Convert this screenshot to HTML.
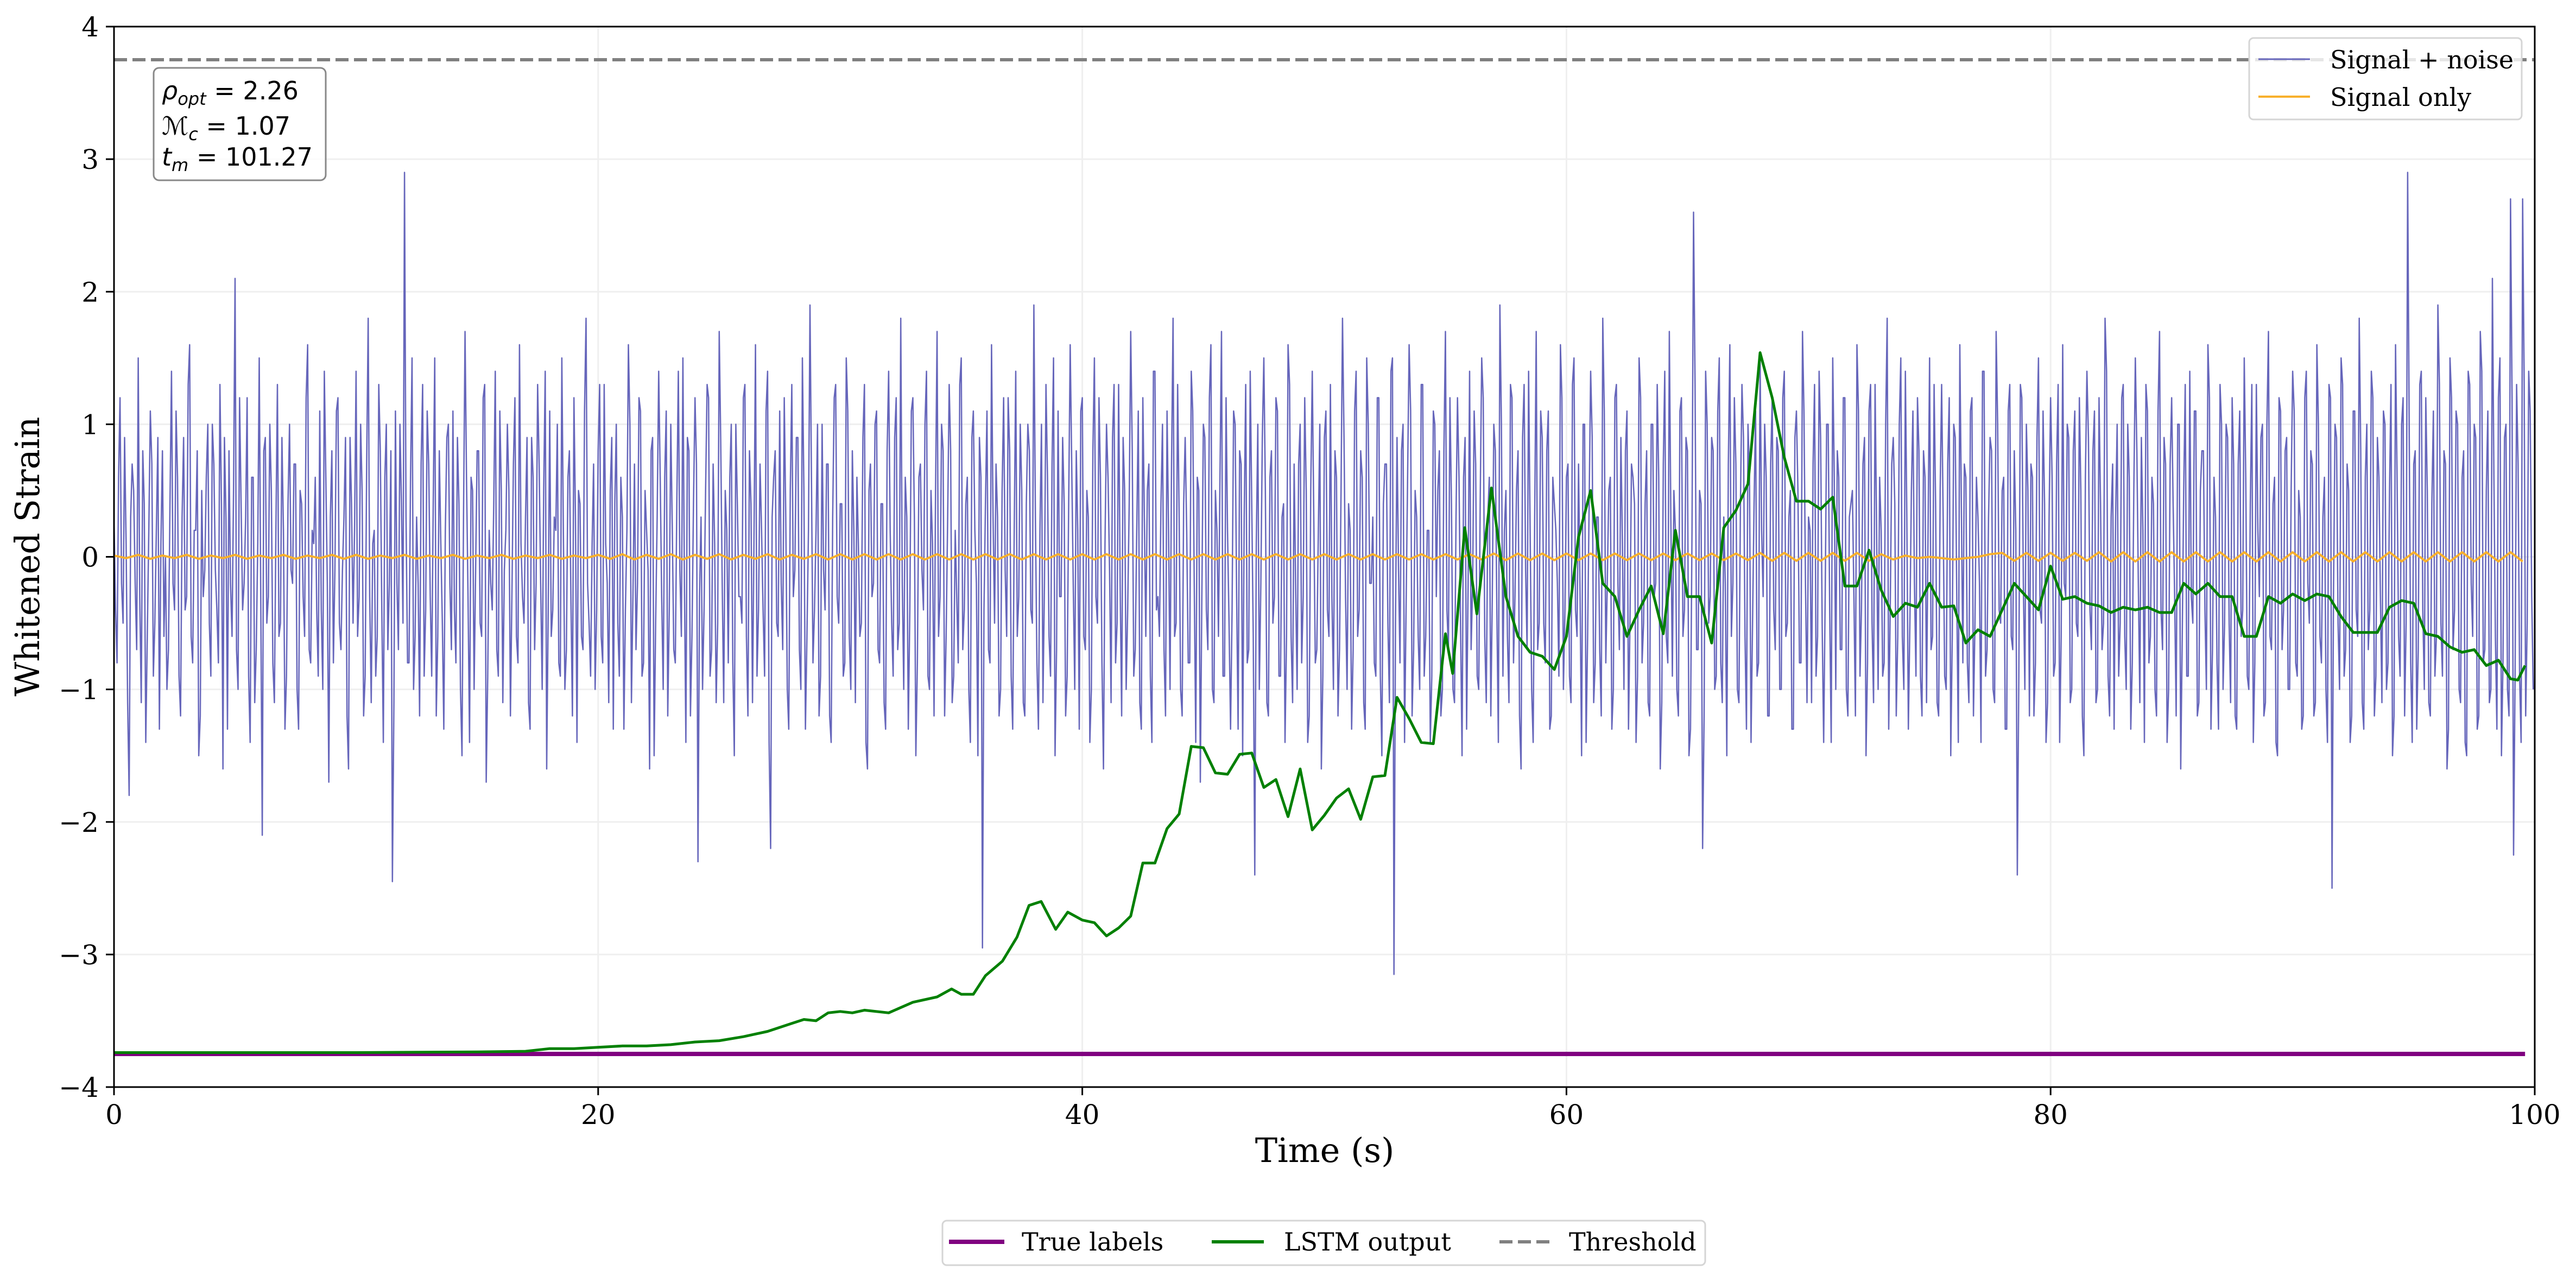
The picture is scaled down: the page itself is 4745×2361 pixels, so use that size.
<!DOCTYPE html>
<html><head><meta charset="utf-8"><style>
html,body{margin:0;padding:0;background:#fff;}
svg{display:block;}
text{font-family:"DejaVu Serif","Liberation Serif",serif;}
</style></head><body>
<svg id="chart" xmlns="http://www.w3.org/2000/svg" width="4745" height="2361" viewBox="0 0 4745 2361">
<rect x="0" y="0" width="4745" height="2361" fill="#fff"/>
<g id="grid"></g>
<g id="series"></g>
<g id="axes"></g>
<g>
<rect x="283" y="125" width="317" height="207" rx="10" fill="#fff" fill-opacity="0.8" stroke="#888" stroke-width="3"/>
<text x="298" y="183" font-size="46" style="font-family:'DejaVu Sans',sans-serif"><tspan font-style="italic">ρ</tspan><tspan font-style="italic" font-size="32" dy="10">opt</tspan><tspan dy="-10"> = 2.26</tspan></text>
<text x="298" y="248" font-size="46" style="font-family:'DejaVu Sans',sans-serif"><tspan font-style="italic">ℳ</tspan><tspan font-style="italic" font-size="32" dy="10">c</tspan><tspan dy="-10"> = 1.07</tspan></text>
<text x="298" y="305" font-size="46" style="font-family:'DejaVu Sans',sans-serif"><tspan font-style="italic">t</tspan><tspan font-style="italic" font-size="32" dy="10">m</tspan><tspan dy="-10"> = 101.27</tspan></text>
</g>
<g>
<rect x="4143" y="70" width="502" height="150" rx="8" fill="#fff" fill-opacity="0.8" stroke="#d5d5d5" stroke-width="3"/>
<line x1="4160" y1="109" x2="4255" y2="109" stroke="#6666bb" stroke-width="3"/>
<text x="4292" y="126" font-size="46">Signal + noise</text>
<line x1="4160" y1="178" x2="4255" y2="178" stroke="#f8b02c" stroke-width="4"/>
<text x="4292" y="195" font-size="46">Signal only</text>
</g>
<g>
<rect x="1736" y="2248" width="1405" height="82" rx="8" fill="#fff" stroke="#d5d5d5" stroke-width="3"/>
<line x1="1748" y1="2287" x2="1850" y2="2287" stroke="#800080" stroke-width="8"/>
<text x="1882" y="2303" font-size="46">True labels</text>
<line x1="2232" y1="2287" x2="2328" y2="2287" stroke="#008000" stroke-width="6"/>
<text x="2365" y="2303" font-size="46">LSTM output</text>
<line x1="2762" y1="2287" x2="2856" y2="2287" stroke="#808080" stroke-width="6" stroke-dasharray="24,10"/>
<text x="2890" y="2303" font-size="46">Threshold</text>
</g>
<text x="2440" y="2140" font-size="62" text-anchor="middle">Time (s)</text>
<text x="0" y="0" font-size="62" text-anchor="middle" transform="translate(72,1025) rotate(-90)">Whitened Strain</text>
</svg>
<script>
const xTicks=[0,20,40,60,80,100];
const yTicks=[-4,-3,-2,-1,0,1,2,3,4];
const threshold=3.75;
const trueLabel=-3.75;
const noiseEven=[
.3,-.8,1.2,-.5,.1,-1.8,.7,-.2,1.5,-1.1,.4,-.6,1.1,-.9,.2,-1.3,.8,.0,-.7,1.4,-.4,.6,-1.2,.9,-.3,1.6,-.8,.2,-1.5,.5,-.1,1.0,-.9,.7,-.4,1.3,-1.6,.3,.8,-.6,2.1,-1.0,.4,-.2,1.2,-1.4,.6,-.7,1.5,-2.1,
.9,-.3,.5,-1.1,1.3,-.5,.2,-.9,1.0,-.2,.7,-1.3,.4,-.6,1.6,-.8,.1,-.4,1.1,-1.0,.6,-1.7,.8,-.1,1.2,-.7,.3,-1.2,.9,-.5,1.4,-.3,.5,-.9,1.8,-1.1,.2,-.6,.8,-1.4,1.0,-.2,-2.45,1.1,-.7,.4,2.9,-.8,.6,-1.0,
.3,-1.2,1.3,-.4,.7,-.9,1.5,-.6,.1,-1.3,.9,-.2,1.1,-.8,.4,-1.5,1.7,-.3,.6,-1.0,.8,-.5,1.2,-1.7,.2,-.4,1.4,-.9,.5,-.1,1.0,-1.2,.7,-.6,1.6,-.3,.3,-1.1,.9,-.7,1.3,-.2,.5,-1.6,1.1,-.4,.2,-.8,1.5,-1.0,
.6,-.3,1.2,-1.4,.4,-.7,1.8,-.5,.1,-1.0,.8,-.6,1.3,-.2,.5,-1.3,1.0,-.9,.3,-.4,1.6,-1.1,.7,-.2,1.1,-.8,.2,-1.6,.9,-.5,1.4,-.3,.6,-1.2,1.0,-.7,.4,-.1,1.5,-1.4,.8,-.6,1.2,-2.3,.3,-.4,1.3,-.9,.7,-1.1,
1.7,-.2,.5,-.8,1.0,-1.5,.4,-.3,1.2,-.6,.8,-1.1,1.6,-.4,.2,-.9,1.4,-2.2,.6,-.5,1.1,-.7,.3,-1.3,1.3,-.1,.9,-1.0,.5,-.6,1.9,-.8,.2,-1.2,1.0,-.4,.7,-1.4,1.2,-.3,.4,-.9,1.5,-.6,.8,-1.1,.1,-.5,1.3,-1.6,
.7,-.2,1.1,-.8,.4,-1.3,1.4,-.5,.9,-.7,1.8,-1.0,.3,-.4,1.2,-1.5,.6,-.1,1.0,-.9,.5,-1.2,1.7,-.3,.8,-.6,1.3,-1.1,.2,-.8,1.5,-.4,.6,-1.4,1.1,-.2,.9,-2.95,.4,-.7,1.6,-.5,.3,-1.0,1.2,-.6,.8,-1.3,1.4,-.3,
.5,-1.2,1.0,-.4,1.9,-.8,.2,-1.1,1.3,-.6,.7,-1.5,1.1,-.3,.4,-.9,1.6,-.2,.8,-1.3,1.2,-.7,.3,-1.0,1.5,-.5,.6,-1.6,1.0,-.1,.9,-.8,1.3,-1.2,.5,-.4,1.7,-.9,.2,-1.1,1.2,-.6,.7,-1.4,1.4,-.3,.4,-.7,1.1,-1.0,
1.8,-.5,.3,-1.2,.9,-.8,1.4,-.2,.6,-1.7,1.0,-.4,1.2,-1.0,.5,-.6,1.7,-.9,.2,-1.3,1.1,-.3,.8,-1.5,1.3,-.7,.4,-2.4,1.0,-.2,1.5,-1.1,.6,-.5,1.2,-.9,.3,-1.4,1.6,-.6,.7,-1.0,1.0,-.3,.5,-1.2,1.4,-.8,.2,-1.6,
.9,-.4,1.3,-1.0,.6,-.7,1.8,-.3,.4,-1.3,1.1,-.6,.8,-1.1,1.5,-.2,.3,-.9,1.2,-1.5,.7,-.5,1.4,-3.15,.9,-.8,1.0,-.4,1.6,-1.2,.5,-.6,1.3,-.9,.2,-1.4,1.1,-.3,.8,-1.0,1.7,-.7,.4,-1.1,1.2,-.5,.6,-1.3,1.4,-.2,
.7,-1.0,1.5,-.6,.3,-1.2,1.0,-.4,1.9,-.9,.5,-1.1,1.2,-.3,.8,-1.6,1.3,-.7,.2,-1.4,1.7,-.5,.9,-.8,1.1,-1.2,.4,-.2,1.6,-1.0,.6,-.9,1.3,-.4,.7,-1.5,1.0,-.6,1.4,-1.1,.3,-.7,1.8,-.8,.5,-1.3,1.2,-.2,.9,-1.0,
1.1,-.5,.6,-1.4,1.5,-.8,.4,-1.1,1.0,-.3,1.3,-1.6,.7,-.6,1.7,-.9,.2,-1.2,1.2,-.4,.8,-1.3,2.6,-.7,.5,-2.2,1.4,-.5,.9,-1.0,1.1,-.8,.3,-1.5,1.6,-.2,.7,-1.1,1.3,-.6,1.0,-1.4,.4,-.9,1.5,-.3,.6,-1.2,1.2,-.7,
.8,-1.0,1.4,-.5,.5,-1.3,1.1,-.8,1.7,-.2,.3,-1.1,1.3,-.6,.9,-1.4,1.0,-.4,1.5,-1.0,.6,-.7,1.2,-1.2,.4,-.3,1.6,-.9,.7,-1.5,1.1,-.5,1.3,-1.0,.2,-.8,1.8,-.4,.9,-1.2,1.0,-.6,1.4,-1.3,.5,-.2,1.2,-.9,.8,-1.1,
1.5,-.6,.4,-1.2,1.3,-.9,.7,-1.5,1.0,-.3,1.6,-.8,.6,-1.1,1.2,-.5,.3,-1.4,1.4,-.7,.9,-1.0,1.7,-.4,.5,-1.3,1.1,-.6,.8,-2.4,1.3,-.2,1.0,-1.2,.6,-.8,1.5,-.5,.4,-1.1,1.2,-.9,.7,-1.4,1.6,-.3,.9,-1.0,1.1,-.6,
.5,-1.5,1.4,-.4,.8,-1.1,1.2,-.7,1.8,-.9,.3,-1.3,1.0,-.5,1.3,-1.0,.6,-.8,1.5,-.2,.9,-1.4,1.1,-.6,.4,-1.2,1.7,-.7,.7,-1.0,1.2,-.3,1.0,-1.6,.5,-.9,1.4,-.5,1.1,-1.1,.8,-.4,1.6,-1.3,.6,-.8,1.3,-1.0,1.0,-.5,
1.2,-1.2,.7,-.6,1.5,-.9,.4,-1.4,1.3,-.3,1.0,-1.1,1.7,-.7,.6,-1.5,1.1,-.4,.9,-1.0,1.4,-.8,.5,-1.3,1.2,-.2,.8,-1.2,1.6,-.6,.3,-1.0,1.3,-2.5,1.0,-.5,1.5,-.9,.7,-1.4,1.1,-.4,1.8,-1.1,.6,-.7,1.4,-1.2,.9,-.3,
1.1,-1.0,.5,-1.5,1.6,-.6,1.0,-1.2,2.9,-.8,.7,-1.3,1.3,-.4,1.2,-1.1,.4,-.9,1.9,-.5,.8,-1.6,1.5,-.7,1.1,-1.0,.6,-1.4,1.4,-.2,1.0,-1.3,1.7,-.8,.5,-1.1,2.1,-.6,1.2,-1.5,.9,-1.0,2.7,-2.25,1.3,-.9,2.7,-1.2,1.4,-.3
];
const noiseOdd=[
-.4,.6,-.2,.9,-1.1,.3,.5,-.7,-.3,.8,-1.4,.2,.7,-.5,.9,.1,-.6,-1.0,.4,-.2,1.1,-.9,.3,-.4,1.3,-.6,.2,.8,-1.2,-.3,.6,-.5,1.0,-.1,-.8,.4,.9,-1.3,-.2,.5,-.7,1.2,-.4,.3,-.9,.6,-1.1,.1,-.3,.8,
-.5,1.0,-.8,.2,-.6,.9,-1.3,.4,-.1,.7,-1.0,.5,-.3,1.2,-.7,.2,.6,-.9,-.4,1.4,-.2,.3,-.8,1.1,-.5,-.1,.9,-1.6,.4,.2,-.6,1.0,-1.2,.7,-.3,.1,-.9,1.3,-.4,.6,-.7,.8,-1.1,-.2,1.0,-.5,.3,-.8,1.5,-.6,
-.2,.7,-.9,1.1,-.3,.4,-1.2,.8,-.5,.2,1.0,-.7,-.4,.9,-1.0,.3,.6,-1.4,.5,-.1,.8,-.6,1.3,-.9,-.2,.4,-.7,1.1,-1.1,.2,.5,-.3,1.2,-.8,.1,-.5,.9,-1.3,.6,-.2,.7,-1.0,1.4,-.4,-.6,.3,1.0,-.9,.2,-.7,
.8,-1.2,.3,.5,-.6,1.1,-.2,-.9,.7,-.4,1.3,-.8,.1,-1.1,.9,.4,-.5,.6,-1.3,.2,1.0,-.3,-.7,1.2,-.9,.5,-.1,.8,-1.5,.3,.6,-1.0,1.1,-.4,.2,-.8,1.4,-.6,-.2,.9,-1.2,.4,.7,-.3,-1.0,.5,1.2,-.7,.1,-.5,
.9,-1.1,.2,.6,-.8,1.0,-.3,-.5,1.3,-1.2,.4,.1,-.9,.7,-.4,1.1,-1.4,.3,.8,-.6,-.2,1.2,-1.0,.5,-.3,.9,-.7,1.5,-1.3,.2,.6,-.4,1.0,-.9,-.1,.7,-1.2,.3,1.3,-.5,.4,-.8,1.1,-1.0,.2,.6,-.6,.9,-1.4,.5,
-.3,1.0,-.7,.4,-1.1,.8,.2,-.9,1.2,-.5,-.2,.6,-1.3,1.1,.3,-.8,.7,-.4,1.4,-1.0,.1,.5,-.6,1.0,-1.2,.3,.8,-.9,-.3,1.3,-.7,.4,-1.0,.9,.2,-1.5,.6,-.4,1.1,-.8,.3,.7,-1.2,.5,-.1,1.2,-.9,.2,-.6,1.0,
-1.1,.4,.8,-.5,.3,-1.3,1.0,-.2,.6,-.9,1.5,-.7,-.3,.9,-1.2,.4,.7,-1.0,.2,1.1,-.6,.5,-1.4,.8,-.3,1.2,-.8,.1,.6,-1.1,1.3,-.5,-.2,.9,-1.0,.4,.8,-.7,1.1,-1.3,.3,.5,-.9,1.4,-.4,-.6,1.0,-1.2,.2,.7,
-.6,1.3,-1.0,.4,.2,-.8,1.1,-1.4,.5,-.3,.9,-.7,1.6,-1.1,.2,.6,-.9,1.2,-.5,-.4,1.0,-1.3,.7,.3,-.8,1.4,-.6,.1,-1.0,.9,.5,-1.2,.8,-.3,1.1,-.9,.4,-.6,1.3,-1.1,-.2,.7,-.8,1.2,-1.4,.5,.3,-.7,1.0,-.9,
1.1,-.6,-.3,.8,-1.2,.5,.9,-1.0,.2,-.7,1.4,-.4,.6,-1.3,1.0,-.2,-.8,1.2,-.9,.4,.7,-1.1,1.5,-.5,-.1,.8,-1.4,.6,1.1,-.7,.3,-1.0,1.3,-.6,.2,-.9,1.0,.5,-1.2,.8,-.4,1.2,-1.0,.3,.6,-1.5,.9,-.2,-.7,1.1,
-.9,.4,1.2,-1.1,.6,-.3,.8,-1.4,1.0,.2,-.6,1.3,-.8,.5,-1.2,.9,-.1,1.4,-1.0,.3,-.7,1.1,-.5,.8,-1.3,.6,.2,-.9,1.2,-.4,.7,-1.1,1.5,-.6,-.3,1.0,-1.4,.4,.9,-.8,.3,-1.2,1.1,-.2,.6,-1.0,1.3,-.7,.1,.8,
-1.3,.7,.4,-.9,1.2,-.5,.8,-1.2,1.0,-.2,.6,-1.1,1.4,-.8,.3,.5,-1.0,1.1,-.6,.9,-1.5,.2,1.3,-.7,.4,-1.2,1.0,-.3,.8,-.9,1.5,-1.1,-.2,.7,-.6,1.2,-1.0,.4,.9,-1.3,.6,-.5,1.1,-.8,.2,1.0,-1.2,.7,-.4,.9,
-1.0,1.2,-.6,.3,-1.3,.9,.5,-.8,1.1,-1.1,.2,.7,-.9,1.4,-.5,-.3,1.0,-1.4,.6,.8,-.7,1.2,-1.0,.3,.5,-1.2,1.1,-.4,.9,-.8,1.3,-1.1,.2,.6,-.9,1.0,-1.3,.7,.4,-.6,1.5,-1.0,.3,-.5,1.1,-.9,.8,-1.2,.6,.2,
-.7,1.3,-1.1,.5,.3,-1.0,1.2,-.6,.9,-1.4,.4,.7,-.8,1.1,-1.2,.6,-.2,1.4,-.9,.3,.8,-1.1,1.0,-.5,.6,-1.3,1.3,-.7,.2,-.9,1.2,-1.0,.5,.7,-1.2,.9,-.4,1.1,-1.4,.3,.6,-.8,1.3,-.6,-.2,1.0,-1.1,.8,-.5,1.2,
-1.2,.6,.9,-.7,1.1,-1.0,.4,-.5,1.4,-1.2,.7,.3,-.9,1.2,-.6,1.0,-1.3,.5,.8,-1.1,.2,1.3,-.8,.6,-1.0,1.1,-.4,.9,-1.4,.7,.4,-1.2,1.0,-.6,1.3,-.9,-.3,1.1,-1.2,.5,.8,-1.0,1.2,-.7,.3,-1.3,1.0,-.5,.9,-1.1,
.7,-1.3,1.1,-.4,.6,-1.0,1.3,-.8,.2,.9,-1.2,1.0,-.6,.4,-1.4,1.2,-.7,.8,-1.0,.5,1.1,-.9,.3,-1.2,1.4,-.5,.7,-1.1,1.0,-.8,.6,-1.4,1.2,-.3,.9,-1.0,1.3,-.7,.5,-1.2,1.1,-.6,.8,-1.3,1.0,-.4,1.2,-.9,.6,-1.1,
1.0,-.8,1.3,-1.2,.6,-.9,1.2,-.5,1.0,-1.4,.8,-.7,1.4,-1.0,.5,-1.2,1.1,-.6,1.3,-.9,.7,-1.3,1.2,-.4,1.0,-1.1,.8,-1.5,1.3,-.6,.9,-1.2,1.4,-.7,1.1,-1.0,.6,-1.3,1.5,-.8,1.0,-1.2,1.2,-.9,.7,-1.4,1.3,-.5,1.1,-1.0
];
const signalValues=[
.01,-.01,.015,-.015,.01,-.01,.015,-.015,.01,-.01,.015,-.015,.01,-.01,.015,-.015,.01,-.01,.015,-.015,
.015,-.015,.01,-.01,.015,-.015,.01,-.01,.015,-.015,.01,-.01,.015,-.015,.01,-.01,.015,-.015,.01,-.01,
.015,-.015,.02,-.02,.015,-.015,.02,-.02,.015,-.015,.02,-.02,.015,-.015,.02,-.02,.015,-.015,.02,-.02,
.02,-.02,.02,-.02,.02,-.02,.02,-.02,.02,-.02,.02,-.02,.02,-.02,.02,-.02,.02,-.02,.02,-.02,
.02,-.02,.02,-.02,.02,-.02,.02,-.02,.02,-.02,.02,-.02,.02,-.02,.02,-.02,.02,-.02,.02,-.02,
.02,-.02,.02,-.02,.02,-.02,.02,-.02,.02,-.02,.02,-.02,.02,-.02,.025,-.025,.025,-.025,.025,-.025,
.025,-.025,.025,-.025,.025,-.025,.025,-.025,.025,-.025,.025,-.025,.025,-.025,.025,-.025,.03,-.03,.03,-.03,
.03,-.03,.03,-.03,.03,-.03,.02,-.02,.01,-.01,.0,-.01,-.02,-.01,.0,.02,.03,-.03,.03,-.03,
.03,-.03,.03,-.03,.035,-.035,.035,-.035,.035,-.035,.035,-.035,.035,-.035,.035,-.035,.035,-.035,.035,-.035,
.035,-.035,.035,-.035,.035,-.035,.035,-.035,.035,-.035,.035,-.035,.035,-.035,.035,-.035,.035,-.035,.035,-.035
];
const lstmTimes=[0,10,15,17,18,19,20,21,22,23,24,25,26,27,28,28.5,29,29.5,30,30.5,31,32,33,34,34.6,35,35.5,36,36.7,37.3,37.8,38.3,38.9,39.4,40,40.5,41,41.5,42,42.5,43,43.5,44,44.5,45,45.5,46,46.5,47,47.5,48,48.5,49,49.5,50,50.5,51,51.5,52,52.5,53,53.5,54,54.5,55,55.3,55.8,56.3,56.9,57.5,58,58.5,59,59.5,60,60.5,61,61.5,62,62.5,63,63.5,64,64.5,65,65.5,66,66.5,67,67.5,68,68.5,69,69.5,70,70.5,71,71.5,72,72.5,73,73.5,74,74.5,75,75.5,76,76.5,77,77.5,78,78.5,79,79.5,80,80.5,81,81.5,82,82.5,83,83.5,84,84.5,85,85.5,86,86.5,87,87.5,88,88.5,89,89.5,90,90.5,91,91.5,92,92.5,93,93.5,94,94.5,95,95.5,96,96.5,97,97.5,98,98.5,99,99.3,99.6];
const lstmValues=[-3.74,-3.74,-3.735,-3.73,-3.71,-3.71,-3.7,-3.69,-3.69,-3.68,-3.66,-3.65,-3.62,-3.58,-3.52,-3.49,-3.5,-3.44,-3.43,-3.44,-3.42,-3.44,-3.36,-3.32,-3.26,-3.3,-3.3,-3.16,-3.05,-2.87,-2.63,-2.6,-2.81,-2.68,-2.74,-2.76,-2.86,-2.8,-2.71,-2.31,-2.31,-2.05,-1.94,-1.43,-1.44,-1.63,-1.64,-1.49,-1.48,-1.74,-1.68,-1.96,-1.6,-2.06,-1.95,-1.82,-1.75,-1.98,-1.66,-1.65,-1.06,-1.22,-1.4,-1.41,-0.58,-0.88,0.22,-0.43,0.52,-0.3,-0.6,-0.72,-0.75,-0.85,-0.6,0.15,0.5,-0.2,-0.3,-0.6,-0.4,-0.22,-0.58,0.2,-0.3,-0.3,-0.65,0.22,0.35,0.55,1.54,1.2,0.75,0.42,0.42,0.36,0.45,-0.22,-0.22,0.05,-0.25,-0.45,-0.35,-0.38,-0.2,-0.38,-0.37,-0.65,-0.55,-0.6,-0.4,-0.2,-0.3,-0.4,-0.07,-0.32,-0.3,-0.35,-0.37,-0.42,-0.38,-0.4,-0.38,-0.42,-0.42,-0.2,-0.28,-0.2,-0.3,-0.3,-0.6,-0.6,-0.3,-0.35,-0.28,-0.33,-0.28,-0.3,-0.45,-0.57,-0.57,-0.57,-0.38,-0.33,-0.35,-0.58,-0.6,-0.68,-0.72,-0.7,-0.82,-0.78,-0.92,-0.93,-0.82];

const noiseValues=[];
for(let i=0;i<Math.max(noiseEven.length,noiseOdd.length);i++){if(i<noiseEven.length)noiseValues.push(noiseEven[i]);if(i<noiseOdd.length)noiseValues.push(noiseOdd[i]);}

const NS='http://www.w3.org/2000/svg';
const X0=210,X1=4669,Y0=49,Y1=2002,TMIN=0,TMAX=100,VMIN=-4,VMAX=4;
function xs(t){return X0+(t-TMIN)/(TMAX-TMIN)*(X1-X0);}
function ys(v){return Y1-(v-VMIN)/(VMAX-VMIN)*(Y1-Y0);}
function mk(tag,attrs,parent){const e=document.createElementNS(NS,tag);for(const k in attrs)e.setAttribute(k,attrs[k]);parent.appendChild(e);return e;}
const grid=document.getElementById('grid'),series=document.getElementById('series'),axes=document.getElementById('axes');
xTicks.forEach(t=>{const l=mk('line',{x1:xs(t),x2:xs(t),y1:Y0,y2:Y1,stroke:'#efefef','stroke-width':3},grid);

});
yTicks.forEach(v=>{const l=mk('line',{x1:X0,x2:X1,y1:ys(v),y2:ys(v),stroke:'#efefef','stroke-width':3},grid);

});
function poly(ts,vs,attrs,name){let d='';for(let i=0;i<vs.length;i++){d+=(i?'L':'M')+xs(ts(i)).toFixed(1)+','+ys(vs[i]).toFixed(1);}
const p=mk('path',Object.assign({d:d,fill:'none','stroke-linejoin':'round'},attrs),series);

return p;}
const clip=mk('clipPath',{id:'plotclip'},series);mk('rect',{x:X0,y:Y0,width:X1-X0,height:Y1-Y0},clip);
poly(i=>i*(TMAX/noiseValues.length),noiseValues,{stroke:'#6666bb','stroke-width':2.5,'clip-path':'url(#plotclip)'},'signal-noise-line');
poly(i=>i*(TMAX/signalValues.length),signalValues,{stroke:'#f8b02c','stroke-width':4,'clip-path':'url(#plotclip)'},'signal-only-line');
const tl=mk('line',{x1:xs(0),x2:xs(99.6),y1:ys(trueLabel),y2:ys(trueLabel),stroke:'#800080','stroke-width':8},series);


poly(i=>lstmTimes[i],lstmValues,{stroke:'#008000','stroke-width':5},'lstm-output-line');
const th=mk('line',{x1:X0,x2:X1,y1:ys(threshold),y2:ys(threshold),stroke:'#808080','stroke-width':6,'stroke-dasharray':'24,10'},series);


const fr=mk('rect',{x:X0,y:Y0,width:X1-X0,height:Y1-Y0,fill:'none',stroke:'#000','stroke-width':3},axes);


xTicks.forEach(t=>{const tk=mk('line',{x1:xs(t),x2:xs(t),y1:Y1,y2:Y1+15,stroke:'#000','stroke-width':3},axes);


const tx=mk('text',{x:xs(t),y:Y1+68,'font-size':50,'text-anchor':'middle'},axes);tx.textContent=String(t);

});
yTicks.forEach(v=>{const tk=mk('line',{x1:X0-15,x2:X0,y1:ys(v),y2:ys(v),stroke:'#000','stroke-width':3},axes);


const tx=mk('text',{x:X0-28,y:ys(v)+18,'font-size':50,'text-anchor':'end'},axes);tx.textContent=(v<0?'\u2212'+(-v):String(v));

});
</script>
</body></html>
